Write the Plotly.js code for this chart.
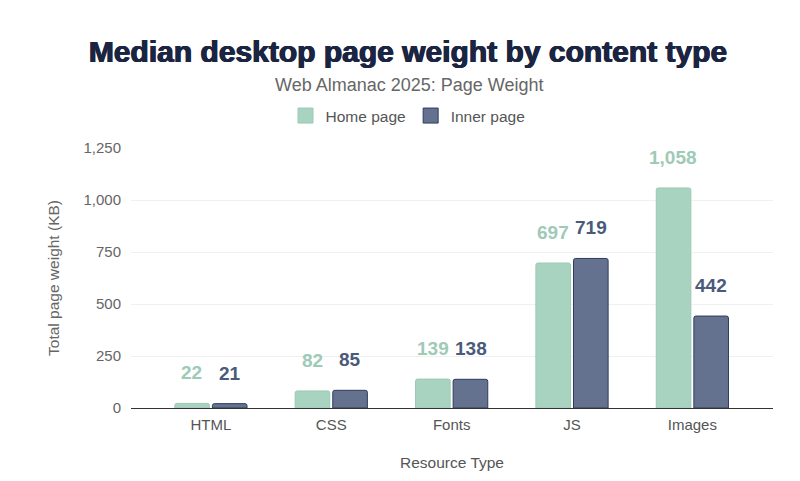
<!DOCTYPE html>
<html>
<head>
<meta charset="utf-8">
<script src="https://cdn.plot.ly/plotly-3.0.1.min.js"></script>
<style>html,body{margin:0;padding:0;background:#fff;}#chart{width:800px;height:481px;}</style>
</head>
<body>
<div id="chart"></div>
<script>
const categories = ["HTML", "CSS", "Fonts", "JS", "Images"];
const homePage = [22, 82, 139, 697, 1058];
const innerPage = [21, 85, 138, 719, 442];
const seriesNames = ["Home page", "Inner page"];
const yTickVals = [0, 250, 500, 750, 1000, 1250];

const homeColor = "#a8d3c0";
const innerColor = "#64728f";
const homeLine = "#9cc9b5";
const innerLine = "#2e3b5a";
const homeLabelColor = "#9ecab7";
const innerLabelColor = "#4a5a7a";

const fmt = v => v.toLocaleString("en-US");
const FONT = "Liberation Sans, Arial, sans-serif";

const traces = [
  {
    type: "bar", name: seriesNames[0], x: categories, y: homePage, showlegend: false,
    marker: {color: homeColor, line: {color: homeLine, width: 1}, cornerradius: 2},
    hoverinfo: "skip"
  },
  {
    type: "bar", name: seriesNames[1], x: categories, y: innerPage, showlegend: false,
    marker: {color: innerColor, line: {color: innerLine, width: 1}, cornerradius: 2},
    hoverinfo: "skip"
  },
  {
    type: "scatter", mode: "markers", name: seriesNames[0], x: [null], y: [null],
    marker: {symbol: "square", size: 15, color: homeColor, line: {color: homeLine, width: 1}},
    hoverinfo: "skip"
  },
  {
    type: "scatter", mode: "markers", name: seriesNames[1], x: [null], y: [null],
    marker: {symbol: "square", size: 15, color: innerColor, line: {color: innerLine, width: 1}},
    hoverinfo: "skip"
  }
];

const annotations = [];
categories.forEach((c, i) => {
  annotations.push({x: c, y: homePage[i], xref: "x", yref: "y", text: "<b>" + fmt(homePage[i]) + "</b>",
    showarrow: false, yanchor: "bottom", yshift: 18, xshift: -19,
    font: {family: FONT, size: 19, color: homeLabelColor}});
  annotations.push({x: c, y: innerPage[i], xref: "x", yref: "y", text: "<b>" + fmt(innerPage[i]) + "</b>",
    showarrow: false, yanchor: "bottom", yshift: 18, xshift: 19,
    font: {family: FONT, size: 19, color: innerLabelColor}});
});
annotations.push({
  text: "Web Almanac 2025: Page Weight", xref: "paper", yref: "paper", x: (409 - 131) / 642, xanchor: "center",
  y: 1, yanchor: "middle", yshift: 63, showarrow: false,
  font: {family: FONT, size: 18, color: "#666666"}
});

const layout = {
  width: 800, height: 481,
  paper_bgcolor: "#ffffff", plot_bgcolor: "#ffffff",
  margin: {l: 131, r: 27, t: 148, b: 73},
  font: {family: FONT, color: "#666666"},
  title: {
    text: "<b>Median desktop page weight by content type</b>",
    font: {family: FONT, size: 30, color: "#1b2542", shadow: "0.6px 0 0 #1b2542, -0.6px 0 0 #1b2542, 0 0.5px 0 #1b2542"},
    x: 408 / 800, xanchor: "center", xref: "container", y: 1 - 51 / 481, yanchor: "middle", yref: "container"
  },
  barmode: "group", bargap: 0.375, bargroupgap: 0.08,
  showlegend: true,
  legend: {
    orientation: "h", x: 408 / 800, xanchor: "center", xref: "container",
    y: 1 - 116 / 481, yanchor: "middle", yref: "container",
    font: {family: FONT, size: 15.5, color: "#555555"}, itemwidth: 30, traceorder: "normal",
    itemsizing: "trace"
  },
  xaxis: {
    type: "category", range: [-0.664, 4.67],
    showline: true, linecolor: "#333333", linewidth: 1,
    showgrid: false, ticks: "", tickfont: {size: 15, color: "#555555"}, ticklabelstandoff: 3,
    title: {text: "Resource Type", font: {size: 15.5, color: "#555555"}, standoff: 25}
  },
  yaxis: {
    range: [0, 1250], tickvals: yTickVals, ticktext: yTickVals.map(fmt),
    showgrid: true, gridcolor: "#f0f0f0", zeroline: false, showline: false,
    ticks: "", tickfont: {size: 15, color: "#666666"}, ticklabelstandoff: 9,
    title: {text: "Total page weight (KB)", font: {size: 15.5, color: "#666666"}, standoff: 20}
  },
  annotations: annotations
};

Plotly.newPlot("chart", traces, layout, {displayModeBar: false, staticPlot: true});
</script>
</body>
</html>
